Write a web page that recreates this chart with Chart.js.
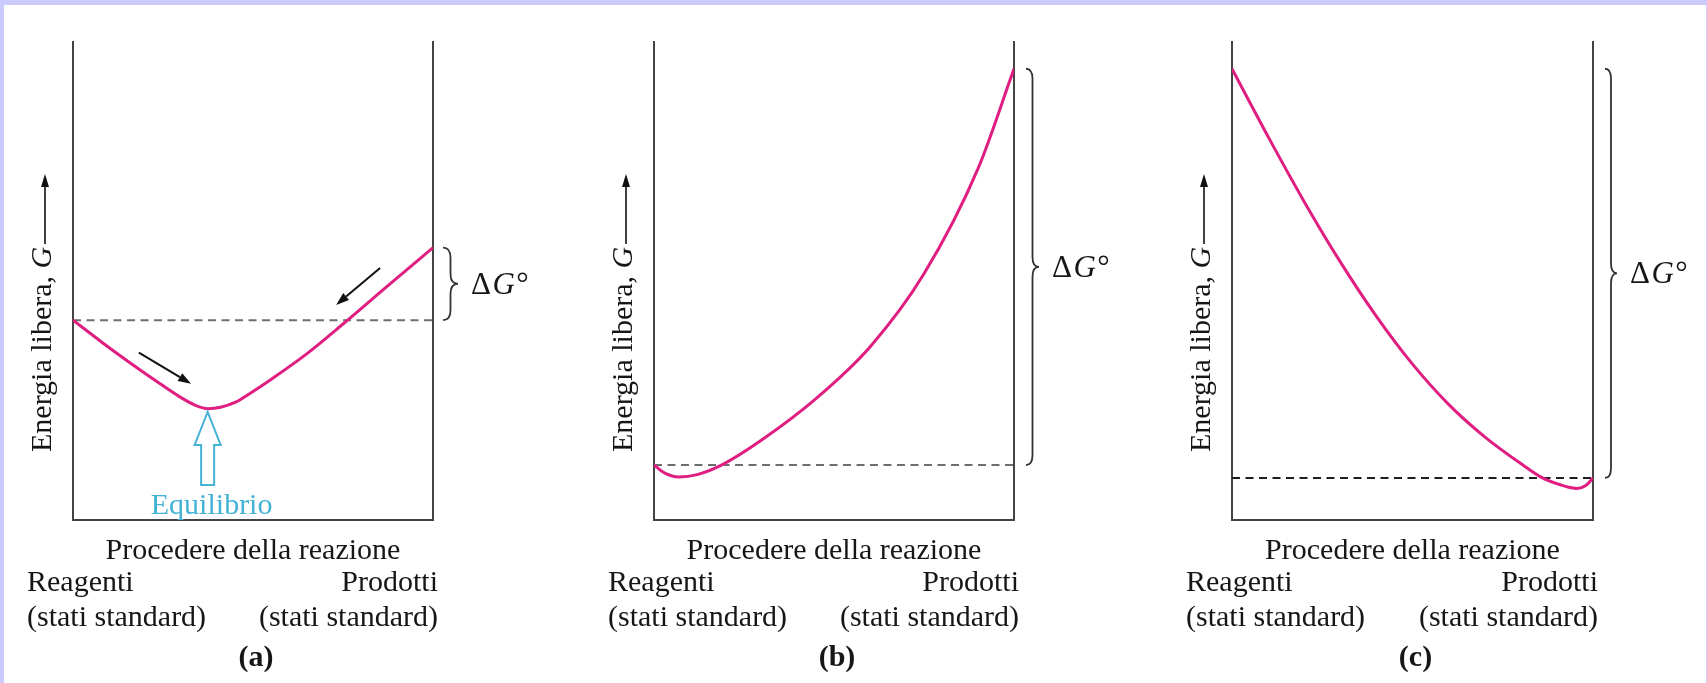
<!DOCTYPE html>
<html><head><meta charset="utf-8">
<script src="https://cdn.jsdelivr.net/npm/chart.js@4.4.1/dist/chart.umd.min.js"></script>
<style>
html,body{margin:0;padding:0;}
body{width:1707px;height:683px;background:#cacafc;position:relative;overflow:hidden;font-family:'Liberation Serif','Times New Roman',serif;color:#161616;}
#paper{position:absolute;left:4px;top:5px;width:1702px;height:678px;background:#fff;}
canvas{position:absolute;left:0;top:0;}
.lbl{position:absolute;white-space:nowrap;font-size:30px;line-height:30px;}
.ylbl{position:absolute;white-space:nowrap;font-size:30px;line-height:30px;transform-origin:0 0;transform:rotate(-90deg);}
</style></head><body>
<div id="paper"></div>
<canvas id="ca" width="1707" height="683"></canvas>
<canvas id="cb" width="1707" height="683"></canvas>
<canvas id="cc" width="1707" height="683"></canvas>
<script>
// ---------- data (reaction progress 0..100, free energy 0..100) ----------
// Panel (a)
const aProgress = [0, 8, 16, 24, 30, 34, 37.5, 41, 45, 50, 55, 65, 75, 87, 100];
const aEnergy   = [41.8, 37.2, 32.8, 28.6, 25.6, 24.0, 23.3, 23.6, 24.6, 26.9, 29.4, 34.8, 41.0, 48.7, 57.0];
const aStandard = 41.8;
// Panel (b)
const bProgress = [0, 3, 7, 12, 19, 30, 45, 60, 75, 90, 100];
const bEnergy   = [11.5, 9.8, 9.0, 9.5, 11.6, 16.8, 25.4, 36.2, 51.5, 73.5, 94.4];
const bStandard = 11.5;
// Panel (c)
const cProgress = [0, 10, 20, 30, 40, 50, 60, 70, 80, 86, 90, 93, 95.6, 98, 100];
const cEnergy   = [94.4, 80.2, 66.6, 54.0, 42.6, 32.6, 24.2, 17.4, 11.8, 8.8, 7.6, 6.9, 6.6, 7.2, 8.8];
const cStandard = 8.8;
// annotation anchors for panel (a) (in data units)
const aDirectionArrows = [[18.3, 35.0, 32.8, 28.5], [85.3, 52.7, 73.1, 45.0]];
const aEquilibrium = {x: 37.4, top: 22.6, bottom: 7.3};

// ---------- texts ----------
const yTitle = 'Energia libera, <i>G</i>';
const xTitle = 'Procedere della reazione';
const leftEnd = ['Reagenti', '(stati standard)'];
const rightEnd = ['Prodotti', '(stati standard)'];
const deltaLabel = '&Delta;<i>G</i>&deg;';
const eqLabel = 'Equilibrio';
const panelTags = ['(a)', '(b)', '(c)'];

const W = 1707, H = 683, TOP = 42, BOTTOM = 520;
const MAGENTA = '#e01e82', AXIS = '#444', EQC = '#43b2d6';

function drawArrow(ctx, x1, y1, x2, y2, color, lw, headLen, headW) {
  const ang = Math.atan2(y2 - y1, x2 - x1);
  const bx = x2 - headLen * Math.cos(ang), by = y2 - headLen * Math.sin(ang);
  ctx.save();
  ctx.strokeStyle = color; ctx.fillStyle = color; ctx.lineWidth = lw;
  ctx.beginPath(); ctx.moveTo(x1, y1); ctx.lineTo(bx, by); ctx.stroke();
  ctx.beginPath(); ctx.moveTo(x2, y2);
  ctx.lineTo(bx + headW / 2 * Math.sin(ang), by - headW / 2 * Math.cos(ang));
  ctx.lineTo(bx - headW / 2 * Math.sin(ang), by + headW / 2 * Math.cos(ang));
  ctx.closePath(); ctx.fill();
  ctx.restore();
}
function drawBrace(ctx, x0, yTop, yBot, w) {
  const yMid = (yTop + yBot) / 2, xm = x0 + w / 2, r = Math.min(10, (yBot - yTop) / 4);
  ctx.beginPath();
  ctx.moveTo(x0, yTop);
  ctx.quadraticCurveTo(xm, yTop, xm, yTop + r);
  ctx.lineTo(xm, yMid - r);
  ctx.quadraticCurveTo(xm, yMid, x0 + w, yMid);
  ctx.quadraticCurveTo(xm, yMid, xm, yMid + r);
  ctx.lineTo(xm, yBot - r);
  ctx.quadraticCurveTo(xm, yBot, x0, yBot);
  ctx.stroke();
}

const annotPlugin = {
  id: 'annot',
  afterDatasetsDraw(chart, args, o) {
    const {ctx, chartArea: ca, scales: {x, y}} = chart;
    // arrow of the y title
    drawArrow(ctx, ca.left - 28, 244, ca.left - 28, 174, '#111', 1.6, 13, 8);
    // brace for delta G
    ctx.save(); ctx.strokeStyle = '#333'; ctx.lineWidth = 1.8;
    drawBrace(ctx, ca.right + o.braceGap, y.getPixelForValue(Math.max(o.brace[0], o.brace[1])),
              y.getPixelForValue(Math.min(o.brace[0], o.brace[1])), o.braceW);
    ctx.restore();
    (o.arrows || []).forEach(a => drawArrow(ctx, x.getPixelForValue(a[0]), y.getPixelForValue(a[1]),
      x.getPixelForValue(a[2]), y.getPixelForValue(a[3]), '#111', 2, 13, 9));
    if (o.eq) {
      const ex = x.getPixelForValue(o.eq.x), et = y.getPixelForValue(o.eq.top), eb = y.getPixelForValue(o.eq.bottom);
      ctx.save();
      ctx.beginPath();
      ctx.moveTo(ex, et); ctx.lineTo(ex + 13, et + 33); ctx.lineTo(ex + 6.5, et + 33);
      ctx.lineTo(ex + 6.5, eb); ctx.lineTo(ex - 6.5, eb); ctx.lineTo(ex - 6.5, et + 33);
      ctx.lineTo(ex - 13, et + 33); ctx.closePath();
      ctx.fillStyle = '#fff'; ctx.fill();
      ctx.strokeStyle = EQC; ctx.lineWidth = 2; ctx.stroke();
      ctx.restore();
    }
  }
};

const panels = [
  {canvas: 'ca', left: 73, right: 433, xs: aProgress, ys: aEnergy, std: aStandard, dash: '#6e6e6e',
   brace: [aStandard, aEnergy[aEnergy.length - 1]], braceGap: 10, braceW: 15, arrows: aDirectionArrows, eq: aEquilibrium},
  {canvas: 'cb', left: 654, right: 1014, xs: bProgress, ys: bEnergy, std: bStandard, dash: '#6e6e6e',
   brace: [bStandard, bEnergy[bEnergy.length - 1]], braceGap: 12, braceW: 13},
  {canvas: 'cc', left: 1232, right: 1593, xs: cProgress, ys: cEnergy, std: cStandard, dash: '#1e1e1e',
   brace: [cStandard, cEnergy[0]], braceGap: 12, braceW: 12}
];

function hiddenAxis(position) {
  return {type: 'linear', position, min: 0, max: 100, ticks: {display: false},
          grid: {display: false, drawTicks: false}, border: {display: true, color: AXIS, width: 2}};
}

function addLabel(cls, html, left, top, transform, extra) {
  const d = document.createElement('div');
  d.className = cls; d.innerHTML = html;
  d.style.left = left + 'px'; d.style.top = top + 'px';
  if (transform) d.style.transform = transform;
  if (extra) Object.assign(d.style, extra);
  document.body.appendChild(d);
  return d;
}

panels.forEach((p, i) => {
  const chart = new Chart(document.getElementById(p.canvas), {
    type: 'line',
    data: {datasets: [
      {label: 'G', data: p.xs.map((x, k) => ({x, y: p.ys[k]})), borderColor: MAGENTA, borderWidth: 3,
       pointRadius: 0, cubicInterpolationMode: 'monotone', fill: false},
      {label: 'standard', data: [{x: 0, y: p.std}, {x: 100, y: p.std}], borderColor: p.dash, borderWidth: 2,
       borderDash: [8, 5.5], pointRadius: 0, fill: false}
    ]},
    options: {
      responsive: false, animation: false, devicePixelRatio: 1, events: [],
      layout: {autoPadding: false, padding: {left: p.left, right: W - p.right, top: TOP, bottom: H - BOTTOM}},
      plugins: {legend: {display: false}, tooltip: {enabled: false},
        annot: {brace: p.brace, braceGap: p.braceGap, braceW: p.braceW, arrows: p.arrows, eq: p.eq}},
      scales: {x: hiddenAxis('bottom'), y: hiddenAxis('left'), y2: hiddenAxis('right')}
    },
    plugins: [annotPlugin]
  });
  const ca = chart.chartArea, ys = chart.scales.y, xs = chart.scales.x;
  const mid = (ca.left + ca.right) / 2;
  // y title (rotated)
  addLabel('ylbl', yTitle, ca.left - 47, 452);
  // x title and ends
  addLabel('lbl', xTitle, mid, 534, 'translateX(-50%)');
  addLabel('lbl', leftEnd[0], ca.left - 46, 566);
  addLabel('lbl', leftEnd[1], ca.left - 46, 601);
  addLabel('lbl', rightEnd[0], ca.right + 5, 566, 'translateX(-100%)');
  addLabel('lbl', rightEnd[1], ca.right + 5, 601, 'translateX(-100%)');
  addLabel('lbl', panelTags[i], mid + 3, 641, 'translateX(-50%)', {fontWeight: 'bold'});
  // delta G label next to brace
  const bMid = (ys.getPixelForValue(p.brace[0]) + ys.getPixelForValue(p.brace[1])) / 2;
  addLabel('lbl', deltaLabel, ca.right + p.braceGap + p.braceW + 13, bMid - 16, null,
           {fontSize: '31px', lineHeight: '31px', letterSpacing: '1.5px'});
  if (p.eq) {
    addLabel('lbl', eqLabel, xs.getPixelForValue(p.eq.x) + 4, 489, 'translateX(-50%)', {color: EQC});
  }
});
</script>
</body></html>
